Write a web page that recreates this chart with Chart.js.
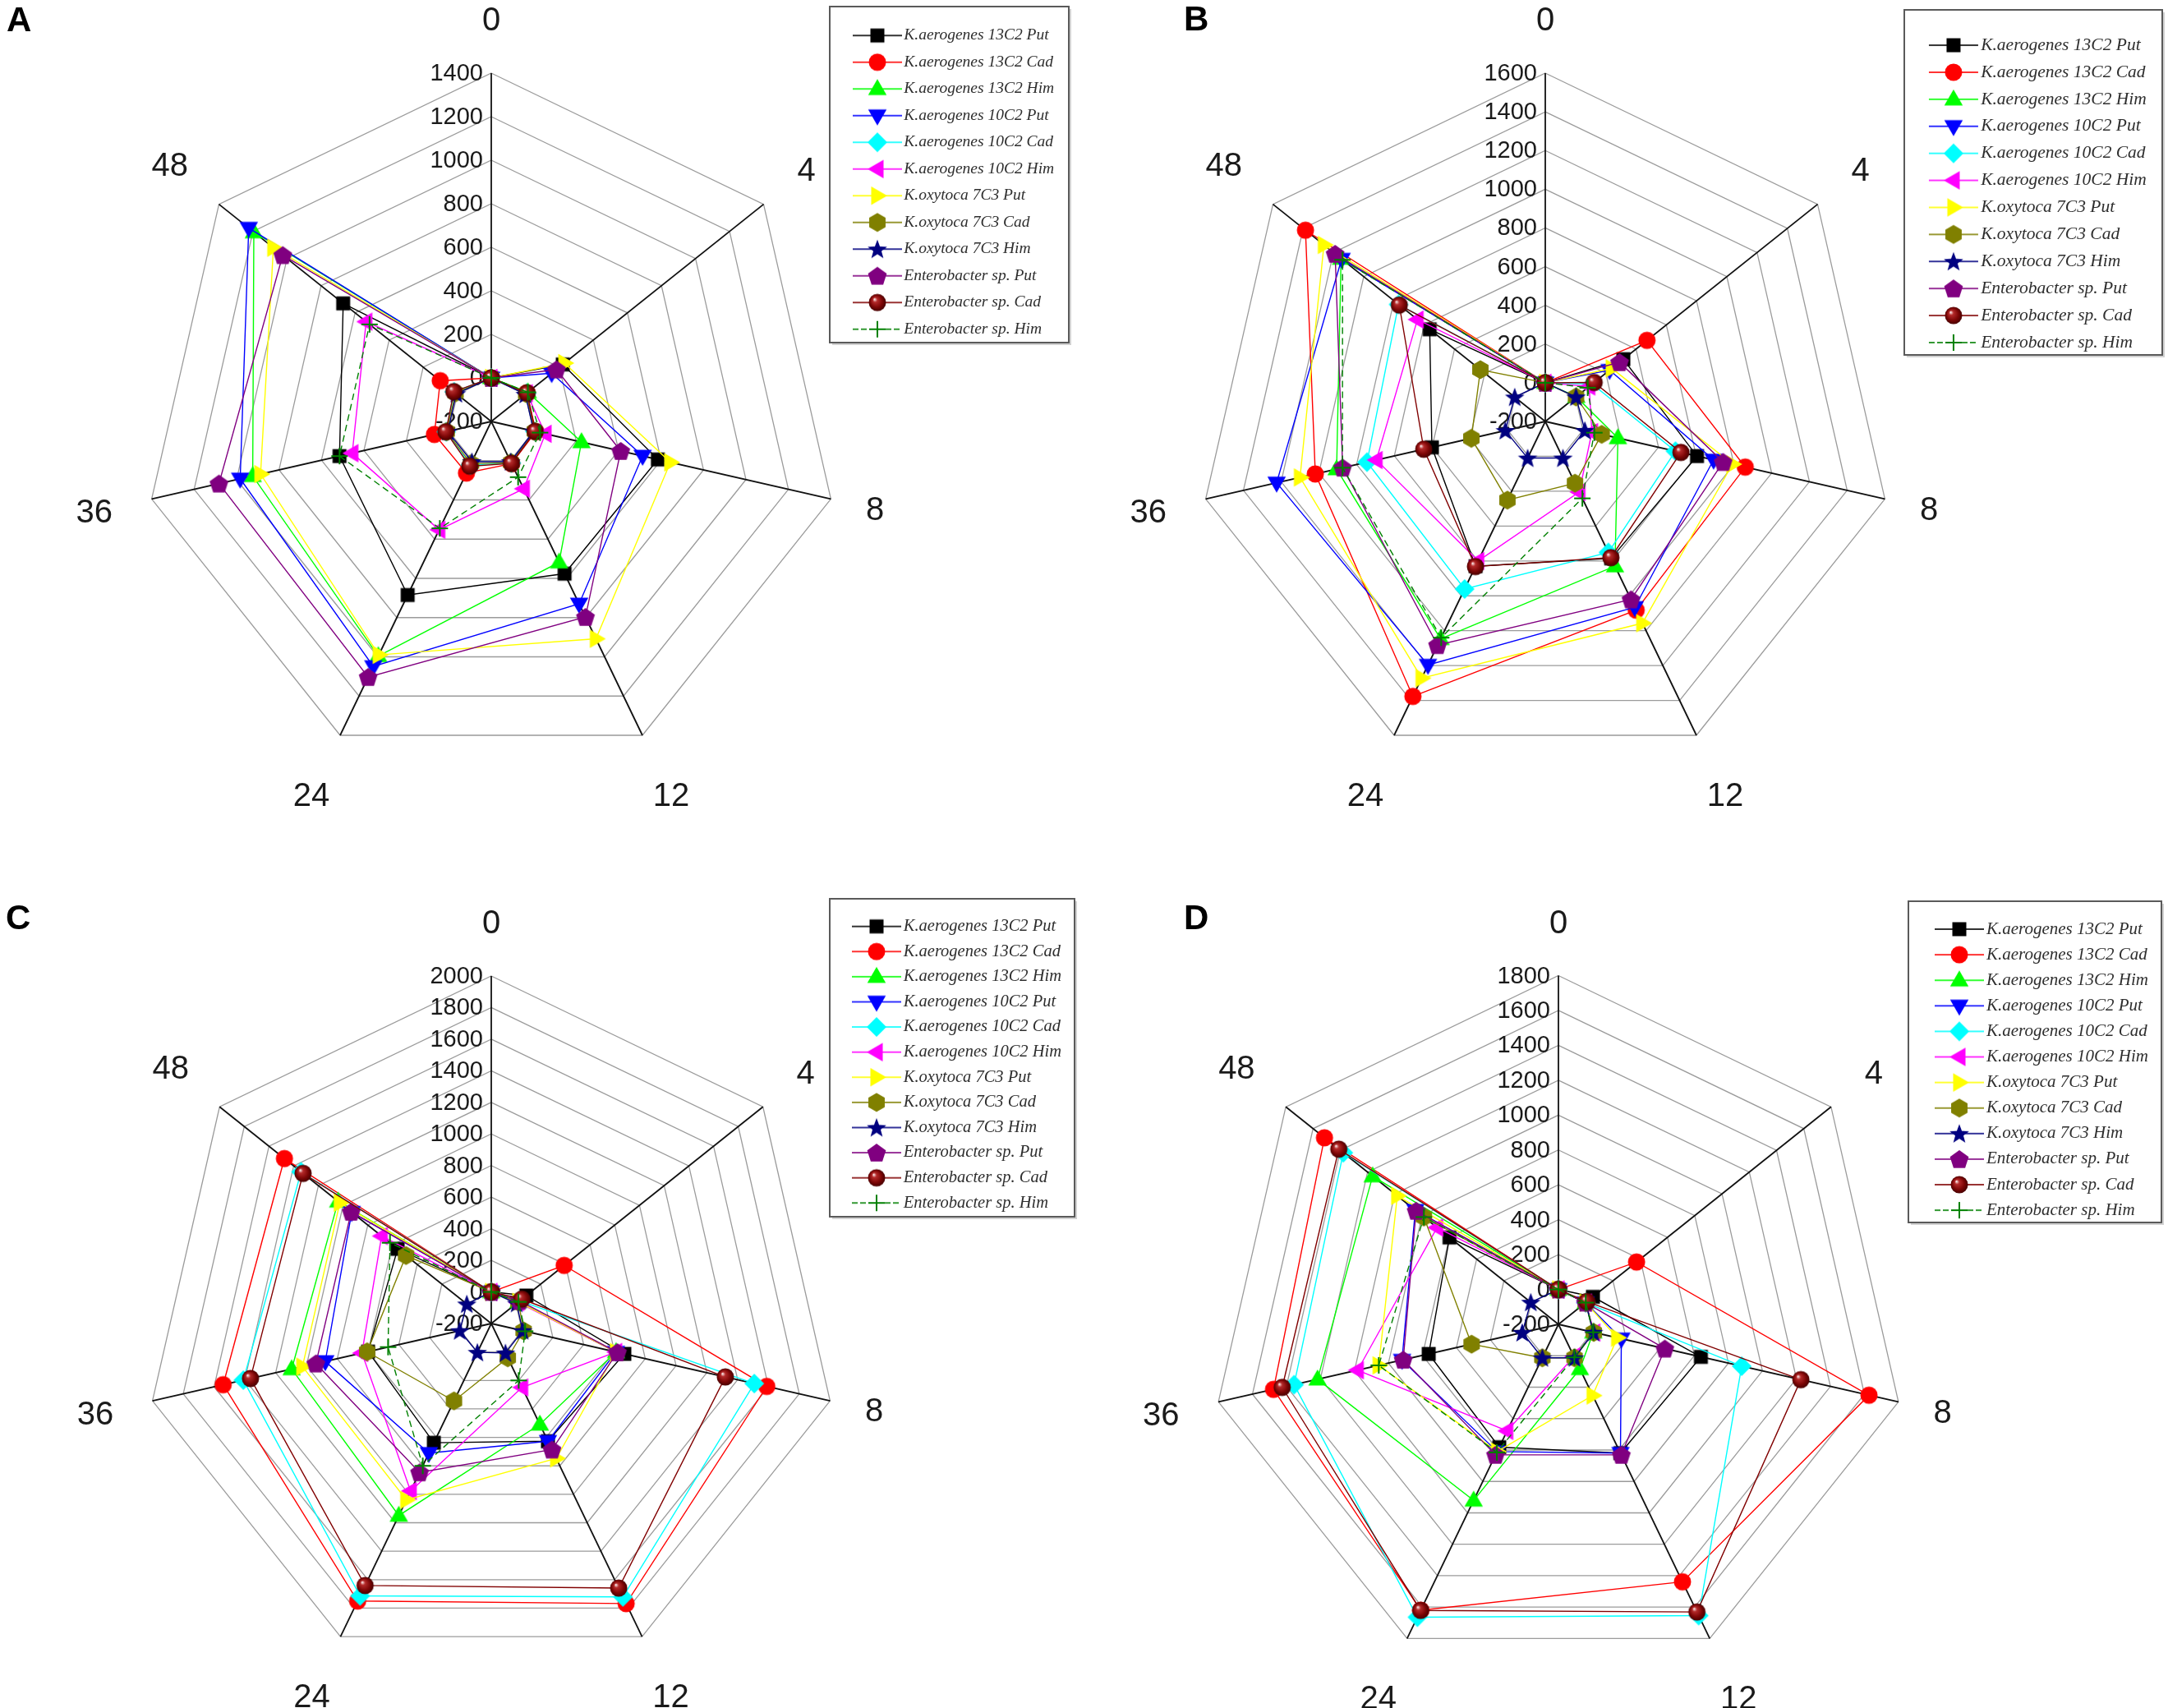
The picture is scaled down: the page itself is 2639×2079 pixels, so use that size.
<!DOCTYPE html>
<html>
<head>
<meta charset="utf-8">
<script src="https://cdn.jsdelivr.net/npm/chart.js@4.4.1/dist/chart.umd.min.js"></script>
<style>
html,body{margin:0;padding:0;background:#fff;}
#wrap{position:relative;width:2639px;height:2079px;overflow:hidden;background:#fff;}
#wrap canvas{position:absolute;}
</style>
</head>
<body>
<div id="wrap">
<canvas id="cA" width="1320" height="1040" style="left:0px;top:0px;width:1320px;height:1040px"></canvas>
<canvas id="cB" width="1319" height="1040" style="left:1320px;top:0px;width:1319px;height:1040px"></canvas>
<canvas id="cC" width="1320" height="1039" style="left:0px;top:1040px;width:1320px;height:1039px"></canvas>
<canvas id="cD" width="1319" height="1039" style="left:1320px;top:1040px;width:1319px;height:1039px"></canvas>
</div>
<script>
// ---------------- DATA ----------------
const categories = ['0', '4', '8', '12', '24', '36', '48'];
const seriesNames = [
  'K.aerogenes 13C2 Put', 'K.aerogenes 13C2 Cad', 'K.aerogenes 13C2 Him',
  'K.aerogenes 10C2 Put', 'K.aerogenes 10C2 Cad', 'K.aerogenes 10C2 Him',
  'K.oxytoca 7C3 Put', 'K.oxytoca 7C3 Cad', 'K.oxytoca 7C3 Him',
  'Enterobacter sp. Put', 'Enterobacter sp. Cad', 'Enterobacter sp. Him'
];
const ticksA = ['-200', '0', '200', '400', '600', '800', '1000', '1200', '1400'];
const ticksB = ['-200', '0', '200', '400', '600', '800', '1000', '1200', '1400', '1600'];
const ticksC = ['-200', '0', '200', '400', '600', '800', '1000', '1200', '1400', '1600', '1800', '2000'];
const ticksD = ['-200', '0', '200', '400', '600', '800', '1000', '1200', '1400', '1600', '1800'];

// Panel A
const a13Put = [0, 220, 585, 576, 685, 515, 670];
const a13Cad = [0, 10, 10, 15, 63, 68, 100];
const a13Him = [0, 15, 225, 518, 996, 924, 1195];
const a10Put = [0, 155, 513, 730, 1049, 983, 1225];
const a10Cad = [0, 8, 5, 12, 22, 12, 18];
const a10Him = [0, 8, 55, 143, 352, 455, 535];
const a7Put  = [0, 230, 644, 908, 990, 887, 1080];
const a7Cad  = [0, 5, 5, 10, 15, 10, 10];
const a7Him  = [0, 0, 0, 5, 5, 5, 5];
const aEPut  = [0, 183, 410, 797, 1103, 1083, 1025];
const aECad  = [0, 10, 7, 14, 28, 14, 20];
const aEHim  = [0, 15, 30, 84, 345, 515, 515];
// Panel B
const b13Put = [0, 316, 604, 585, 630, 401, 564];
const b13Cad = [0, 472, 860, 882, 1377, 1019, 1385];
const b13Him = [0, 5, 185, 630, 1047, 906, 1150];
const b10Put = [0, 225, 692, 866, 1197, 1224, 1146];
const b10Cad = [0, 110, 490, 551, 761, 745, 770];
const b10Him = [0, 90, 47, 205, 600, 695, 645];
const b7Put  = [0, 240, 792, 957, 1272, 1100, 1263];
const b7Cad  = [0, 3, 99, 154, 251, 192, 229];
const b7Him  = [0, 3, 10, 10, 10, 12, 2];
const bEPut  = [0, 291, 743, 821, 1083, 874, 1189];
const bECad  = [0, 123, 519, 581, 632, 444, 765];
const bEHim  = [0, 80, 60, 241, 1040, 875, 1140];
// Panel C
const c13Put = [0, 84, 664, 627, 638, 600, 558];
const c13Cad = [0, 390, 1589, 1768, 1750, 1541, 1475];
const c13Him = [0, 20, 610, 509, 1149, 1096, 1040];
const c10Put = [0, 20, 610, 627, 711, 878, 930];
const c10Cad = [0, 30, 1508, 1721, 1714, 1410, 1340];
const c10Him = [0, 15, 610, 249, 977, 640, 688];
const c7Put  = [0, 20, 610, 748, 1039, 1026, 1026];
const c7Cad  = [0, 20, 10, 41, 344, 606, 490];
const c7Him  = [0, 5, 4, 7, 3, 5, -2];
const cEPut  = [0, 30, 619, 686, 846, 939, 934];
const cECad  = [0, 48, 1320, 1659, 1641, 1364, 1324];
const cEHim  = [0, 20, 20, 200, 800, 470, 620];
// Panel D
const d13Put = [0, 53, 638, 620, 582, 563, 599];
const d13Cad = [0, 373, 1627, 1439, 1620, 1476, 1516];
const d13Him = [0, 0, 5, 84, 921, 1217, 1163];
const d10Put = [0, 0, 170, 620, 610, 720, 850];
const d10Cad = [0, 0, 878, 1654, 1664, 1355, 1378];
const d10Him = [0, 0, 10, 5, 478, 981, 690];
const d7Put  = [0, 0, 146, 253, 610, 857, 982];
const d7Cad  = [0, 0, 8, 13, 13, 311, 787];
const d7Him  = [0, 0, 6, 13, 13, 13, 3];
const dEPut  = [0, 0, 426, 631, 631, 713, 844];
const dECad  = [0, 9, 1226, 1631, 1621, 1425, 1411];
const dEHim  = [0, 0, 5, 10, 615, 857, 787];

const panelA = [a13Put, a13Cad, a13Him, a10Put, a10Cad, a10Him, a7Put, a7Cad, a7Him, aEPut, aECad, aEHim];
const panelB = [b13Put, b13Cad, b13Him, b10Put, b10Cad, b10Him, b7Put, b7Cad, b7Him, bEPut, bECad, bEHim];
const panelC = [c13Put, c13Cad, c13Him, c10Put, c10Cad, c10Him, c7Put, c7Cad, c7Him, cEPut, cECad, cEHim];
const panelD = [d13Put, d13Cad, d13Him, d10Put, d10Cad, d10Him, d7Put, d7Cad, d7Him, dEPut, dECad, dEHim];

// ---------------- STYLES ----------------
const COLORS = ['#000000', '#ff0000', '#00ff00', '#0000ff', '#00ffff', '#ff00ff',
                '#ffff00', '#808000', '#000080', '#800080', '#800000', '#008000'];
const SHAPES = ['square', 'circle', 'triUp', 'triDown', 'diamond', 'triLeft',
                'triRight', 'hexagon', 'star', 'pentagon', 'sphere', 'cross'];
// distance of each category label from the centre, as a multiple of the radius
const LABEL_DIST = [1.153, 1.157, 1.13, 1.19, 1.19, 1.169, 1.18];

function regPoly(ctx, cx, cy, r, n, startDeg) {
  for (let k = 0; k < n; k++) {
    const a = (startDeg + 360 * k / n) * Math.PI / 180;
    const x = cx + r * Math.cos(a), y = cy + r * Math.sin(a);
    if (k === 0) ctx.moveTo(x, y); else ctx.lineTo(x, y);
  }
  ctx.closePath();
}
function paintMarker(ctx, shape, color, cx, cy) {
  ctx.save();
  ctx.fillStyle = color;
  ctx.strokeStyle = color;
  ctx.beginPath();
  switch (shape) {
    case 'square': ctx.rect(cx - 8.5, cy - 8.5, 17, 17); ctx.fill(); break;
    case 'circle': ctx.arc(cx, cy, 10.5, 0, Math.PI * 2); ctx.fill(); break;
    case 'triUp': regPoly(ctx, cx, cy + 1, 13, 3, -90); ctx.fill(); break;
    case 'triDown': regPoly(ctx, cx, cy - 1, 13, 3, 90); ctx.fill(); break;
    case 'triLeft': regPoly(ctx, cx + 1, cy, 13, 3, 180); ctx.fill(); break;
    case 'triRight': regPoly(ctx, cx - 1, cy, 13, 3, 0); ctx.fill(); break;
    case 'diamond': regPoly(ctx, cx, cy, 12, 4, -90); ctx.fill(); break;
    case 'hexagon': regPoly(ctx, cx, cy, 11.5, 6, -90); ctx.fill(); break;
    case 'pentagon': regPoly(ctx, cx, cy + 1, 12, 5, -90); ctx.fill(); break;
    case 'star': {
      for (let k = 0; k < 10; k++) {
        const r = (k % 2 === 0) ? 12.5 : 5.2;
        const a = (-90 + 36 * k) * Math.PI / 180;
        const x = cx + r * Math.cos(a), y = cy + 1 + r * Math.sin(a);
        if (k === 0) ctx.moveTo(x, y); else ctx.lineTo(x, y);
      }
      ctx.closePath(); ctx.fill(); break;
    }
    case 'sphere': {
      const g = ctx.createRadialGradient(cx - 3.5, cy - 4, 0.5, cx, cy, 11);
      g.addColorStop(0, '#f6dede');
      g.addColorStop(0.22, '#b42a2a');
      g.addColorStop(0.65, '#7c0606');
      g.addColorStop(1, '#420000');
      ctx.fillStyle = g;
      ctx.arc(cx, cy, 10.5, 0, Math.PI * 2); ctx.fill(); break;
    }
    case 'cross': {
      ctx.lineWidth = 2;
      ctx.moveTo(cx - 10, cy); ctx.lineTo(cx + 10, cy);
      ctx.moveTo(cx, cy - 10); ctx.lineTo(cx, cy + 10);
      ctx.stroke(); break;
    }
  }
  ctx.restore();
}
function makeMarker(i, withLine) {
  const c = document.createElement('canvas');
  c.width = withLine ? 64 : 30;
  c.height = 30;
  const ctx = c.getContext('2d');
  const cx = c.width / 2, cy = 15;
  if (withLine) {
    ctx.save();
    ctx.strokeStyle = COLORS[i];
    ctx.globalAlpha = 0.8;
    ctx.lineWidth = 2;
    if (i === 11) ctx.setLineDash([7, 3]);
    ctx.beginPath(); ctx.moveTo(2, cy); ctx.lineTo(62, cy); ctx.stroke();
    ctx.restore();
  }
  paintMarker(ctx, SHAPES[i], COLORS[i], cx, cy);
  return c;
}
const markerImgs = SHAPES.map((s, i) => makeMarker(i, false));
const legendImgs = SHAPES.map((s, i) => makeMarker(i, true));

Chart.defaults.font.family = '"Liberation Sans", Arial, sans-serif';

const decorPlugin = {
  id: 'decor',
  afterLayout(chart, args, o) {
    const s = chart.scales.r;
    s.xCenter = o.cx; s.yCenter = o.cy; s.drawingArea = o.R;
    chart.chartArea = {left: 0, top: 0, right: chart.width, bottom: chart.height, width: chart.width, height: chart.height};
    const lg = chart.legend;
    if (lg) {
      lg.left = o.legendL; lg.right = chart.width; lg.width = chart.width - o.legendL;
      lg.top = o.legendT; lg.bottom = chart.height; lg.height = chart.height - o.legendT;
    }
  },
  beforeDatasetsDraw(chart, args, o) {
    const s = chart.scales.r;
    const ctx = chart.ctx;
    ctx.save();
    ctx.fillStyle = '#1a1a1a';
    ctx.font = '29px "Liberation Sans", Arial, sans-serif';
    ctx.textAlign = 'right';
    ctx.textBaseline = 'middle';
    s.ticks.forEach(t => {
      const d = s.getDistanceFromCenterForValue(t.value);
      ctx.fillText(t.label, s.xCenter - 10, s.yCenter - d + 1);
    });
    ctx.font = '40px "Liberation Sans", Arial, sans-serif';
    ctx.textAlign = 'center';
    chart.data.labels.forEach((lab, i) => {
      const p = s.getPointPosition(i, s.drawingArea * LABEL_DIST[i]);
      ctx.fillText(lab, p.x, p.y + 2);
    });
    ctx.restore();
  },
  afterDraw(chart, args, o) {
    const ctx = chart.ctx;
    ctx.save();
    ctx.strokeStyle = '#5a5a5a';
    ctx.lineWidth = 2;
    ctx.strokeRect(o.boxX, o.boxY, o.boxW, o.boxH);
    ctx.strokeStyle = 'rgba(0,0,0,0.18)';
    ctx.lineWidth = 2;
    ctx.beginPath();
    ctx.moveTo(o.boxX + 3, o.boxY + o.boxH + 2);
    ctx.lineTo(o.boxX + o.boxW + 2, o.boxY + o.boxH + 2);
    ctx.lineTo(o.boxX + o.boxW + 2, o.boxY + 3);
    ctx.stroke();
    ctx.fillStyle = '#000';
    ctx.font = 'bold 42px "Liberation Sans", Arial, sans-serif';
    ctx.textAlign = 'left';
    ctx.textBaseline = 'alphabetic';
    ctx.fillText(o.letter, o.letterX, o.letterY);
    ctx.restore();
  }
};

function makeChart(id, values, ticks, cfg) {
  const datasets = seriesNames.map((name, i) => ({
    label: name,
    data: values[i],
    borderColor: COLORS[i],
    backgroundColor: COLORS[i],
    borderWidth: 1.4,
    borderDash: i === 11 ? [8, 5] : [],
    fill: false,
    pointStyle: markerImgs[i],
    pointRadius: 10,
    pointHoverRadius: 10,
    pointBorderWidth: 0,
    order: seriesNames.length - i,
    clip: false
  }));
  const tmin = Number(ticks[0]);
  const tmax = Number(ticks[ticks.length - 1]);
  const step = Number(ticks[1]) - Number(ticks[0]);
  return new Chart(document.getElementById(id), {
    type: 'radar',
    data: {labels: categories, datasets: datasets},
    options: {
      responsive: false,
      animation: false,
      devicePixelRatio: 1,
      events: [],
      layout: {padding: 0},
      scales: {
        r: {
          min: tmin, max: tmax, beginAtZero: false,
          ticks: {
            display: false, stepSize: step,
            callback: (v) => { const f = ticks.find(t => Number(t) === v); return f !== undefined ? f : String(v); }
          },
          grid: {color: '#9b9b9b', lineWidth: 1.3},
          angleLines: {color: '#111111', lineWidth: 1.8},
          pointLabels: {display: false}
        }
      },
      plugins: {
        tooltip: {enabled: false},
        legend: {
          position: 'right',
          align: 'start',
          labels: {
            usePointStyle: true,
            pointStyleWidth: 45,
            padding: cfg.pad,
            color: '#2e2e2e',
            font: {family: '"Liberation Serif", "Times New Roman", serif', style: 'italic', size: cfg.fs},
            generateLabels(chart) {
              const items = Chart.defaults.plugins.legend.labels.generateLabels(chart);
              items.forEach(it => { it.pointStyle = legendImgs[it.datasetIndex]; it.rotation = 0; });
              return items.sort((a, b) => a.datasetIndex - b.datasetIndex);
            }
          }
        },
        decor: cfg
      }
    },
    plugins: [decorPlugin]
  });
}

makeChart('cA', panelA, ticksA, {cx: 598, cy: 513, R: 424, legendL: 1032.5, legendT: 20.5, fs: 19.5, pad: 13,
  boxX: 1010, boxY: 8, boxW: 291, boxH: 409, letter: 'A', letterX: 8, letterY: 38});
makeChart('cB', panelB, ticksB, {cx: 561, cy: 513, R: 424, legendL: 1024, legendT: 32.9, fs: 21.5, pad: 11.4,
  boxX: 998, boxY: 12, boxW: 314, boxH: 420, letter: 'B', letterX: 121, letterY: 37});
makeChart('cC', panelC, ticksC, {cx: 598, cy: 571, R: 423, legendL: 1034.4, legendT: 67.3, fs: 20.5, pad: 10.1,
  boxX: 1010, boxY: 54, boxW: 298, boxH: 387, letter: 'C', letterX: 7, letterY: 91});
makeChart('cD', panelD, ticksD, {cx: 577, cy: 572, R: 424.5, legendL: 1032.4, legendT: 70.4, fs: 21, pad: 10.1,
  boxX: 1003, boxY: 57, boxW: 308, boxH: 391, letter: 'D', letterX: 121, letterY: 91});
</script>
</body>
</html>
